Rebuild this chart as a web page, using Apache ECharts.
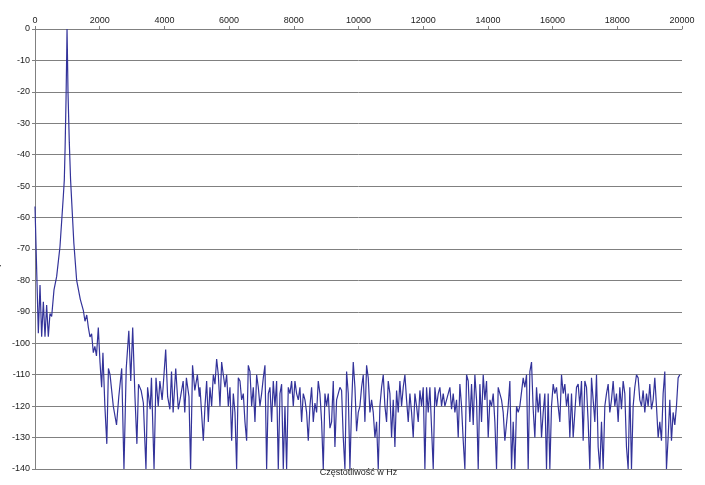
<!DOCTYPE html>
<html>
<head>
<meta charset="utf-8">
<script src="https://cdn.jsdelivr.net/npm/echarts@6/dist/echarts.min.js"></script>
<style>
    html, body { margin: 0; padding: 0; background: #fff; }
    #chart { width: 705px; height: 485px; }
</style>
</head>
<body>
<div id="chart"></div>
<script>
// low part of the spectrum, irregular frequency points (Hz / dB)
var lowFreq = [0, 103, 155, 206, 258, 309, 360, 412, 463, 515, 587, 669, 772, 875, 906, 930, 960, 980, 990, 1000, 1020, 1060, 1100, 1200, 1288,
    1400, 1494, 1545, 1600, 1650, 1700, 1750, 1803, 1850, 1900, 1957, 2009, 2060, 2100, 2160, 2220, 2270, 2320, 2370, 2420, 2520, 2590, 2680,
    2750, 2820, 2900, 2960, 3020, 3090, 3150, 3200, 3280, 3350, 3430, 3480, 3560, 3600, 3680, 3740, 3810, 3860, 3930, 3960, 4040, 4100, 4170,
    4220, 4270, 4350, 4430, 4500, 4580, 4630, 4680, 4760, 4810, 4870, 4940, 5020, 5080];
var lowAmp = [-56.5, -96.8, -81.5, -97.9, -86.8, -97.9, -87.8, -97.9, -90.5, -91.5, -83, -78.8, -69.3, -53.3, -48, -38, -22, -8, 0, -6, -20, -36, -48, -68, -80,
    -86, -89.5, -93, -91, -95, -98, -97, -103, -101, -104, -95, -106, -114, -103, -120, -132, -108, -110, -110, -120, -126, -117, -108,
    -140, -108, -96, -112, -95, -117, -132, -113, -115, -119, -140, -114, -121, -111, -140, -111, -120, -112, -118, -114, -102, -117, -121,
    -109, -122, -108, -121, -117, -112, -122, -111, -117, -140, -107, -115, -110, -117];

// noise floor, evenly spaced samples
var step = 51.5;
var midStart = 5100;
var midAmp = [-114, -114, -131, -120, -112, -125, -114, -120, -110, -113, -105, -110, -120, -106, -110, -114, -110, -120, -114, -131,
    -116, -122, -140, -111, -112, -118, -116, -125, -131, -107, -109, -120, -114, -125, -110, -114, -120, -116, -111, -107,
    -140, -116, -114, -125, -112, -120, -112, -140, -116, -113, -140, -120, -140, -114, -116, -112, -120, -112, -116, -118,
    -114, -125, -116, -118, -122, -131, -120, -114, -125, -119, -122, -112, -116, -125, -140, -116, -120, -116, -127, -125,
    -112, -133, -118, -116, -114, -115, -130, -140, -109, -116, -140, -120, -106, -114, -128, -122, -120, -114, -110, -125,
    -107, -111, -122, -118, -122, -130, -125, -140, -120, -114, -110, -120, -125, -112, -116, -130, -118, -133, -115, -122,
    -112, -120, -114, -110, -118, -125, -116, -122, -130, -116, -120, -125, -115, -120, -114, -140, -114, -122, -114, -114,
    -140, -114, -120, -116, -114, -120, -116, -120];
var highStart = 12825;
var highAmp = [-114, -121, -116, -122, -118, -130, -113, -120, -131, -140, -110, -112, -125, -113, -126, -110, -118, -140, -113, -125,
    -110, -118, -112, -130, -118, -120, -116, -125, -140, -114, -114, -118, -122, -131, -131, -120, -112, -140, -125, -140,
    -120, -122, -120, -120, -111, -114, -110, -140, -109, -106, -121, -130, -114, -122, -116, -130, -122, -116, -140, -116,
    -140, -120, -113, -116, -114, -120, -125, -110, -116, -113, -120, -116, -130, -116, -130, -122, -114, -113, -120, -112,
    -131, -112, -114, -125, -140, -111, -118, -125, -110, -133, -140, -125, -140, -120, -116, -113, -122, -118, -112, -120,
    -116, -125, -114, -121, -112, -116, -133, -140, -114, -140, -120, -114, -110, -111, -118, -120, -115, -122, -116, -120,
    -113, -121, -118, -111, -120, -130, -125, -131, -116, -109, -140, -130, -118, -131, -122, -126, -120, -111, -110];

var data = [];
for (var i = 0; i < lowFreq.length; i++) data.push([lowFreq[i], lowAmp[i]]);
for (var i = 0; i < midAmp.length; i++) data.push([midStart + i * step, midAmp[i]]);
for (var i = 0; i < highAmp.length; i++) data.push([highStart + i * step, highAmp[i]]);

var myChart = echarts.init(document.getElementById('chart'));
var option = {
    animation: false,
    backgroundColor: '#fff',
    grid: { left: 35, right: 23, top: 29, bottom: 16, containLabel: false, outerBoundsMode: 'none' },
    xAxis: {
        type: 'value',
        position: 'top',
        min: 0, max: 20000, interval: 2000,
        axisLine: { show: true, onZero: false, lineStyle: { color: '#808080' } },
        axisTick: { show: true, length: 3, lineStyle: { color: '#808080' } },
        axisLabel: { color: '#222', fontSize: 9, fontFamily: 'Liberation Sans', margin: 4,
            formatter: function (v) { return String(v); } },
        splitLine: { show: false },
        name: 'Częstotliwość w Hz',
        nameLocation: 'middle',
        nameGap: -448,
        nameTextStyle: { color: '#222', fontSize: 9, fontFamily: 'Liberation Sans' }
    },
    yAxis: {
        type: 'value',
        min: -140, max: 0, interval: 10,
        axisLine: { show: true, lineStyle: { color: '#808080' } },
        axisTick: { show: true, length: 3, lineStyle: { color: '#808080' } },
        axisLabel: { color: '#222', fontSize: 9, fontFamily: 'Liberation Sans', margin: 5 },
        splitLine: { show: true, lineStyle: { color: '#808080', width: 1 } },
        name: 'Amplituda w dB',
        nameLocation: 'middle',
        nameGap: 24,
        nameTextStyle: { color: '#222', fontSize: 9, fontFamily: 'Liberation Sans' }
    },
    series: [{
        type: 'line',
        data: data,
        symbol: 'none',
        lineStyle: { color: '#33339a', width: 1.2 }
    }]
};
myChart.setOption(option);
</script>
</body>
</html>
